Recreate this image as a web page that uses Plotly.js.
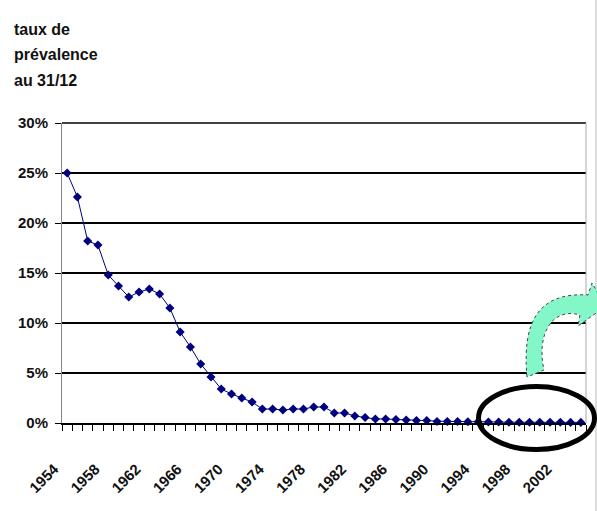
<!DOCTYPE html>
<html>
<head>
<meta charset="utf-8">
<script src="https://cdn.plot.ly/plotly-3.0.1.min.js"></script>
<style>html,body{margin:0;padding:0;background:#fff}#chart{width:597px;height:511px}</style>
</head>
<body>
<div id="chart"></div>
<script>
// ---- data ----
const years = [1954,1955,1956,1957,1958,1959,1960,1961,1962,1963,1964,1965,1966,1967,1968,1969,1970,1971,1972,1973,1974,1975,1976,1977,1978,1979,1980,1981,1982,1983,1984,1985,1986,1987,1988,1989,1990,1991,1992,1993,1994,1995,1996,1997,1998,1999,2000,2001,2002,2003,2004];
const prevalence = [25.0,22.6,18.2,17.8,14.8,13.7,12.6,13.1,13.4,12.9,11.5,9.1,7.6,5.9,4.6,3.4,2.9,2.5,2.1,1.4,1.4,1.3,1.4,1.4,1.6,1.6,1.0,1.0,0.7,0.55,0.4,0.4,0.35,0.3,0.25,0.25,0.15,0.15,0.15,0.12,0.12,0.1,0.1,0.08,0.08,0.08,0.07,0.07,0.07,0.06,0.06];
const labelYears = [1954,1958,1962,1966,1970,1974,1978,1982,1986,1990,1994,1998,2002];
const yTicks = [0,5,10,15,20,25,30];
const titleLines = ['taux de','prévalence','au 31/12'];

// ---- layout geometry (pixels) ----
const W = 597, H = 511;
const L = 62, R = 586, T = 123, B = 423;
const px = x => (x - L) / (R - L);
const py = y => (B - y) / (B - T);
const FONT = 'Liberation Sans, Arial, sans-serif';

const trace = {
  x: years, y: prevalence, type: 'scatter', mode: 'lines+markers',
  line: {color: '#000080', width: 1},
  marker: {symbol: 'diamond', size: 7, color: '#000080'},
  hoverinfo: 'skip', cliponaxis: false
};

function P(x, y) { return px(x).toFixed(4) + ',' + py(y).toFixed(4); }
const arrowPath = 'M' + P(527,377) +
  ' C' + P(522,322) + ' ' + P(538,292) + ' ' + P(588,295) +
  ' L' + P(592,283) + ' L' + P(606,306) + ' L' + P(578,326) + ' L' + P(580,315) +
  ' C' + P(553,307) + ' ' + P(536,333) + ' ' + P(544,370) + ' Z';

const annotations = titleLines.map((t, i) => ({
  text: t, xref: 'paper', yref: 'paper', x: px(12), y: py(29 + i * 25.5),
  xanchor: 'left', yanchor: 'middle', showarrow: false,
  font: {family: FONT, size: 16, color: '#111', weight: 700}
}));

const layout = {
  width: W, height: H,
  margin: {l: L, r: W - R, t: T, b: H - B, pad: 0},
  paper_bgcolor: '#fff', plot_bgcolor: '#fff',
  showlegend: false,
  font: {family: FONT, color: '#111'},
  xaxis: {
    range: [1953.5, 2004.5], tickmode: 'array',
    tickvals: labelYears, ticktext: labelYears.map(String),
    ticks: '', tickangle: -45, ticklabelstandoff: 30, ticklabelshift: -13,
    tickfont: {family: FONT, size: 15, color: '#111', weight: 700},
    showgrid: false, zeroline: false,
    showline: true, linecolor: '#000', linewidth: 1.5,
    minor: {tickmode: 'linear', tick0: 1953.5, dtick: 1, ticks: 'outside', ticklen: 6, tickcolor: '#000', tickwidth: 1, showgrid: false}
  },
  yaxis: {
    range: [0, 30], tickmode: 'array', tickvals: yTicks, ticktext: yTicks.map(v => v + '%'),
    ticks: 'outside', ticklen: 6, tickcolor: '#000', tickwidth: 1,
    tickfont: {family: FONT, size: 15, color: '#111', weight: 700},
    ticklabelstandoff: 4,
    showgrid: true, gridcolor: '#000', gridwidth: 1.5,
    zeroline: false, showline: true, linecolor: '#888', linewidth: 1
  },
  annotations: annotations,
  shapes: [
    {type: 'line', xref: 'paper', yref: 'paper', x0: 0, x1: 1, y0: 1, y1: 1, line: {color: '#000', width: 1.5}},
    {type: 'line', xref: 'paper', yref: 'paper', x0: 1, x1: 1, y0: 0, y1: 1, line: {color: '#aaa', width: 1}},
    {type: 'line', xref: 'paper', yref: 'paper', x0: px(596), x1: px(596), y0: py(0), y1: py(511), line: {color: '#bbb', width: 1}},
    {type: 'path', xref: 'paper', yref: 'paper', path: arrowPath, fillcolor: '#84F7C9', line: {color: '#444', width: 1, dash: 'dot'}},
    {type: 'circle', xref: 'paper', yref: 'paper', x0: px(478.5), x1: px(594.5), y0: py(449.5), y1: py(386.5), line: {color: '#000', width: 5}}
  ]
};

Plotly.newPlot('chart', [trace], layout, {staticPlot: true, displayModeBar: false});
</script>
</body>
</html>
